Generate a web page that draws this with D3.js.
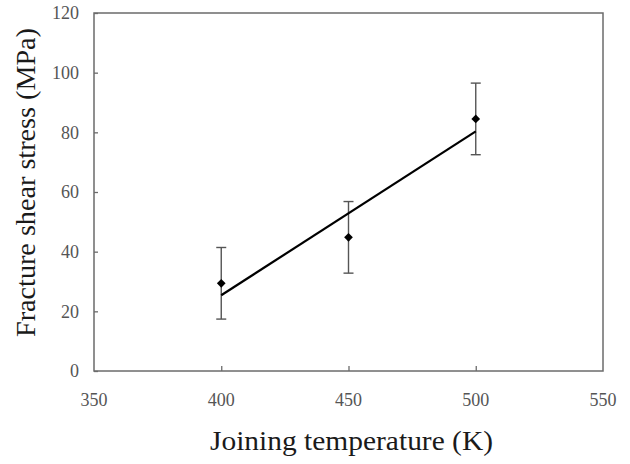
<!DOCTYPE html>
<html>
<head>
<meta charset="utf-8">
<script src="https://cdn.jsdelivr.net/npm/d3@7"></script>
<style>
  html, body { margin: 0; padding: 0; background: #fff; }
  svg { display: block; }
</style>
</head>
<body>
<div id="chart"></div>
<script>
  // measured values
  const temperatures = [400, 450, 500];
  const shearStress = [29.4, 44.8, 84.5];
  const stressError = [12, 12, 12];
  // fitted line endpoints
  const fitX = [400, 500];
  const fitY = [25.4, 80.3];

  const xTicks = [350, 400, 450, 500, 550];
  const yTicks = [0, 20, 40, 60, 80, 100, 120];

  const width = 630, height = 464;
  const margin = { top: 13, right: 27, bottom: 93, left: 94 };

  const svg = d3.select("#chart").append("svg")
    .attr("width", width)
    .attr("height", height);

  const x = d3.scaleLinear().domain([350, 550]).range([margin.left, width - margin.right]);
  const y = d3.scaleLinear().domain([0, 120]).range([height - margin.bottom, margin.top]);

  const axisColor = "#6b6b6b";
  const labelColor = "#555";
  const serif = "'Liberation Serif', 'DejaVu Serif', serif";

  // frame
  svg.append("rect")
    .attr("x", x(350)).attr("y", y(120))
    .attr("width", x(550) - x(350)).attr("height", y(0) - y(120))
    .attr("fill", "none").attr("stroke", axisColor).attr("stroke-width", 1.5);

  // left axis, ticks pointing inward
  const yAxis = svg.append("g")
    .attr("transform", `translate(${x(350)},0)`)
    .call(d3.axisRight(y).tickValues(yTicks).tickSize(4).tickFormat(""));
  yAxis.select(".domain").remove();
  yAxis.selectAll("line").attr("stroke", axisColor).attr("stroke-width", 1.3);

  svg.append("g").selectAll("text").data(yTicks).join("text")
    .attr("x", x(350) - 15)
    .attr("y", d => y(d))
    .attr("dy", "0.35em")
    .attr("text-anchor", "end")
    .style("font-family", serif).style("font-size", "18px").style("fill", labelColor)
    .text(d => d);

  // bottom axis, ticks pointing inward
  const xAxis = svg.append("g")
    .attr("transform", `translate(0,${y(0)})`)
    .call(d3.axisTop(x).tickValues(xTicks.slice(1, -1)).tickSize(5).tickFormat(""));
  xAxis.select(".domain").remove();
  xAxis.selectAll("line").attr("stroke", axisColor).attr("stroke-width", 1.3);

  svg.append("g").selectAll("text").data(xTicks).join("text")
    .attr("x", d => x(d))
    .attr("y", y(0) + 35)
    .attr("text-anchor", "middle")
    .style("font-family", serif).style("font-size", "18px").style("fill", labelColor)
    .text(d => d);

  // error bars
  const errs = svg.append("g").attr("stroke", "#555").attr("stroke-width", 1.4);
  temperatures.forEach((t, i) => {
    const top = y(shearStress[i] + stressError[i]);
    const bot = y(shearStress[i] - stressError[i]);
    errs.append("line").attr("x1", x(t)).attr("x2", x(t)).attr("y1", top).attr("y2", bot);
    errs.append("line").attr("x1", x(t) - 5).attr("x2", x(t) + 5).attr("y1", top).attr("y2", top);
    errs.append("line").attr("x1", x(t) - 5).attr("x2", x(t) + 5).attr("y1", bot).attr("y2", bot);
  });

  // fitted line
  svg.append("path")
    .datum(fitX.map((d, i) => [d, fitY[i]]))
    .attr("fill", "none")
    .attr("stroke", "#000")
    .attr("stroke-width", 2.2)
    .attr("d", d3.line().x(d => x(d[0])).y(d => y(d[1])));

  // markers
  svg.append("g").selectAll("path").data(temperatures).join("path")
    .attr("transform", (d, i) => `translate(${x(d)},${y(shearStress[i])}) rotate(45)`)
    .attr("d", d3.symbol().type(d3.symbolSquare).size(38))
    .attr("fill", "#000");

  // axis titles
  svg.append("text")
    .attr("x", 351.5)
    .attr("y", 450)
    .attr("text-anchor", "middle")
    .attr("textLength", 283)
    .attr("lengthAdjust", "spacingAndGlyphs")
    .style("font-family", serif).style("font-size", "28px").style("fill", "#1a1a1a")
    .text("Joining temperature (K)");

  svg.append("text")
    .attr("transform", `translate(35,182.5) rotate(-90)`)
    .attr("text-anchor", "middle")
    .attr("textLength", 309)
    .attr("lengthAdjust", "spacingAndGlyphs")
    .style("font-family", serif).style("font-size", "28px").style("fill", "#1a1a1a")
    .text("Fracture shear stress (MPa)");
</script>
</body>
</html>
